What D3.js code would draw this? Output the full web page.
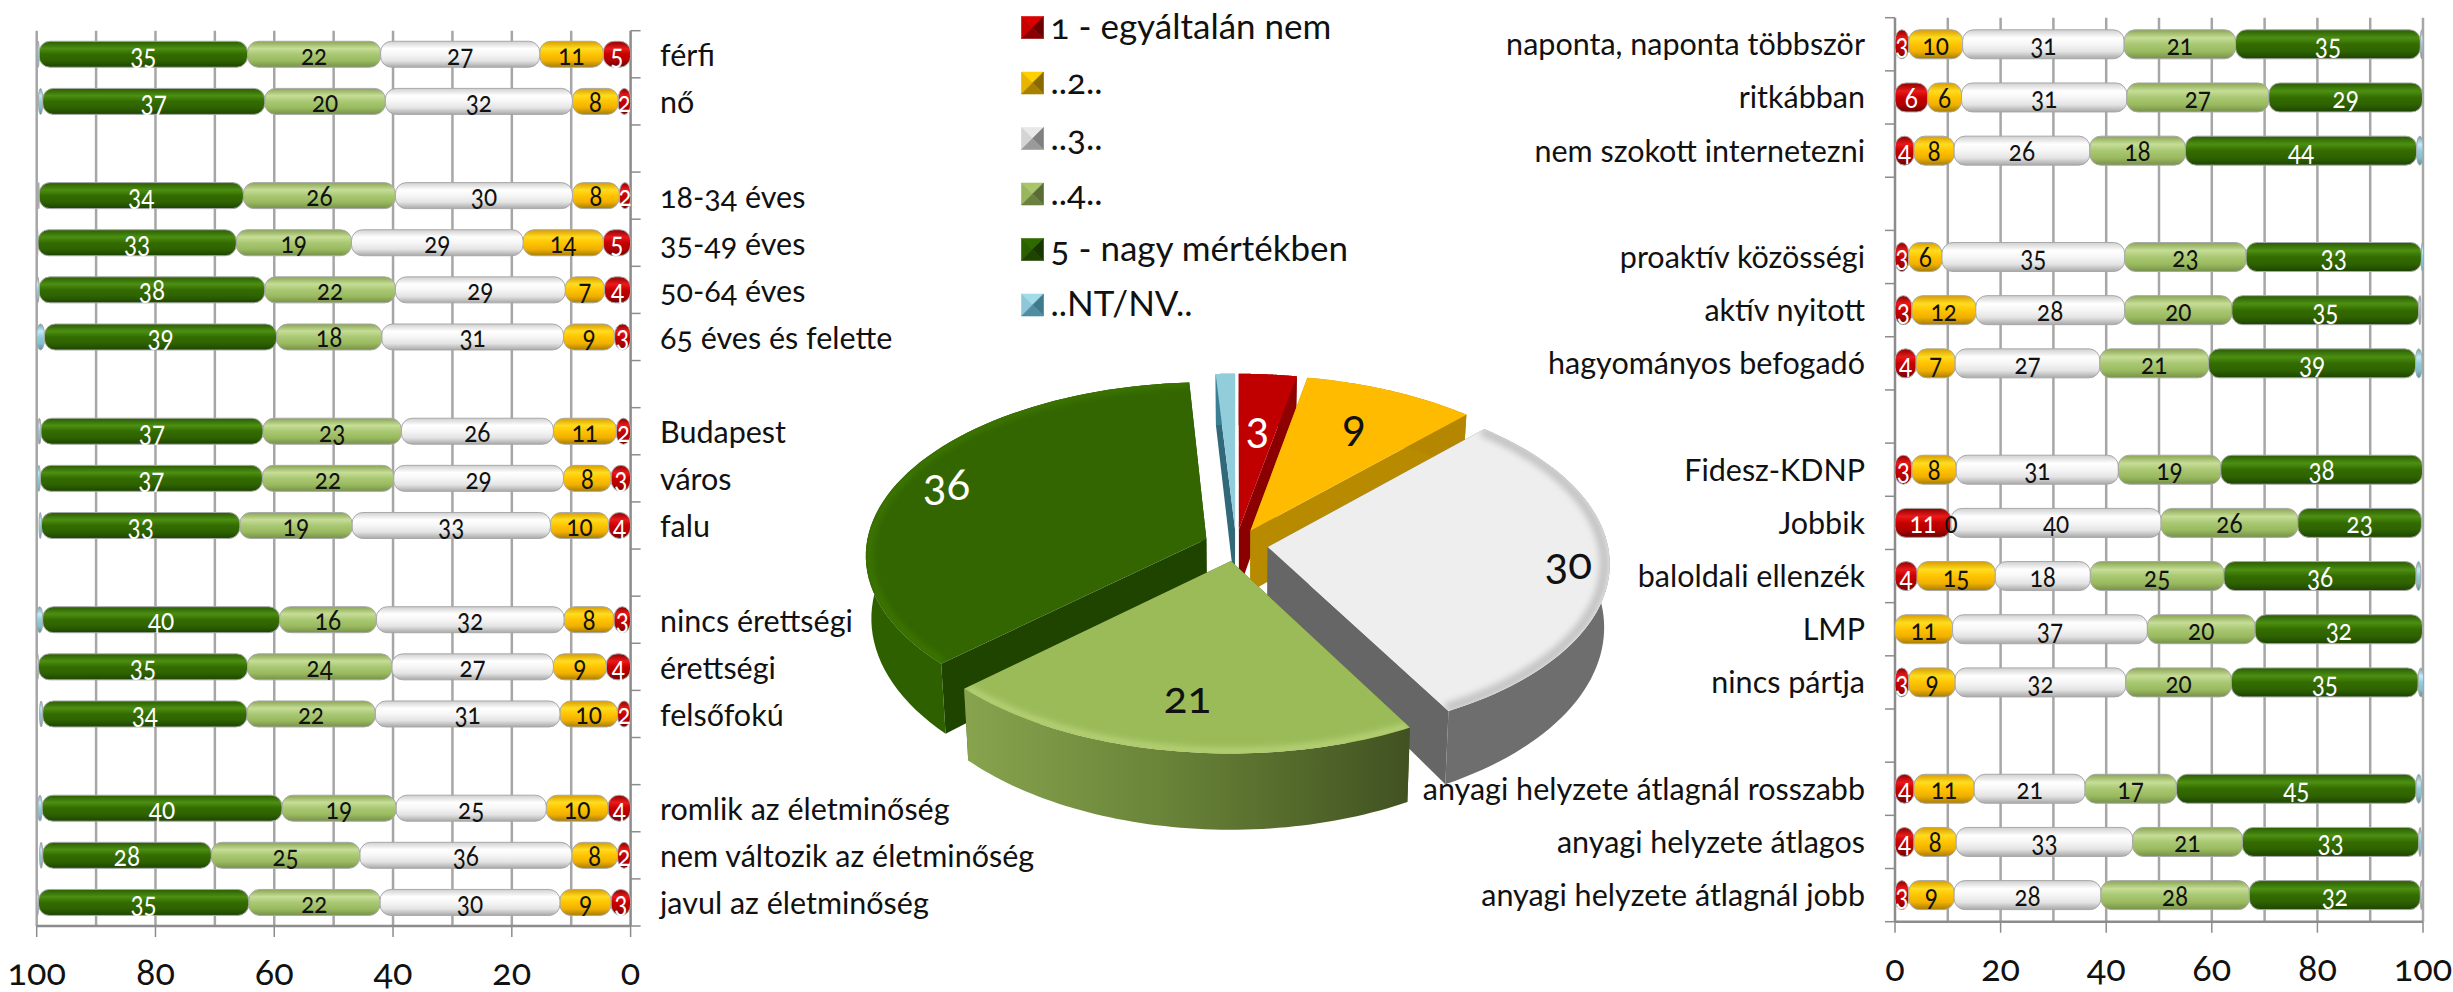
<!DOCTYPE html>
<html><head><meta charset="utf-8">
<script src="https://cdnjs.cloudflare.com/ajax/libs/d3/7.8.5/d3.min.js"></script>
<style>
html,body{margin:0;padding:0;background:#fff}
svg{display:block}
text{font-family:Lato,"Open Sans","Noto Sans",sans-serif;font-variant-numeric:oldstyle-nums;font-feature-settings:"onum" 1,"lnum" 0}
</style></head><body>
<svg id="c" width="2453" height="992"></svg>
<script>
// ---------- data ----------
const seriesNames = ["1 - egyáltalán nem","..2..","..3..","..4..","5 - nagy mértékben","..NT/NV.."];
const seriesKeys = ["r","o","w","l","g","b"];

const leftCategories = ["férfi","nő","","18-34 éves","35-49 éves","50-64 éves","65 éves és felette","","Budapest","város","falu","","nincs érettségi","érettségi","felsőfokú","","romlik az életminőség","nem változik az életminőség","javul az életminőség"];
const leftRed    = [4.6,2.1,null,1.9,4.6,4.4,2.7,null,2.4,3.3,3.7,null,2.8,4.1,2.2,null,3.8,2.2,3.3];
const leftOrange = [10.7,7.7,null,7.9,13.5,6.6,8.6,null,10.6,8.0,9.8,null,8.4,8.9,9.7,null,10.4,7.7,8.6];
const leftWhite  = [26.8,31.5,null,29.8,28.9,28.6,30.6,null,25.6,28.6,33.4,null,31.6,27.2,31.1,null,25.3,35.7,30.3];
const leftLight  = [22.4,20.3,null,25.6,19.4,22,17.7,null,23.3,22.1,18.9,null,16.3,24.3,21.6,null,19.2,25,22.1];
const leftDark   = [35.1,37.4,null,34.4,33.4,38,39.1,null,37.4,37.4,33.4,null,39.9,35.2,34.4,null,40.4,28.4,35.4];
const leftNT     = [0.3,0.7,null,0.1,0.1,0.5,1.3,null,0.5,0.5,0.4,null,1.0,0.3,0.5,null,0.7,0.5,0.3];

const rightCategories = ["naponta, naponta többször","ritkábban","nem szokott internetezni","","proaktív közösségi","aktív nyitott","hagyományos befogadó","","Fidesz-KDNP","Jobbik","baloldali ellenzék","LMP","nincs pártja","","anyagi helyzete átlagnál rosszabb","anyagi helyzete átlagos","anyagi helyzete átlagnál jobb"];
const rightRed    = [2.6,6.2,3.6,null,2.6,3.2,4,null,3.2,10.6,4.2,null,2.6,null,3.6,3.6,2.6];
const rightOrange = [10.2,6.4,7.6,null,6.3,12.1,7.4,null,8.4,0,14.8,10.9,8.8,null,11.4,8,8.6];
const rightWhite  = [30.6,31.3,25.7,null,34.6,28.2,27.4,null,30.7,39.8,18,36.9,32.3,null,21,33.4,27.8];
const rightLight  = [21.1,26.9,18.1,null,23,20.3,20.6,null,19.4,25.9,25.3,20.4,20,null,17.3,20.8,28.1];
const rightDark   = [35,29.1,43.8,null,33.2,35.4,39.2,null,38.2,23.4,36.4,31.7,35.4,null,45.4,33.4,32.4];
const rightNT     = [0.5,0,1.2,null,0.4,0.4,1.2,null,0,0,0.9,0,1,null,1,0.5,0.4];

const pieValues = [3,9,30,21,36,1];
const axisTicks = [0,20,40,60,80,100];

// ---------- layout ----------
const svg = d3.select("#c");
const defs = svg.append("defs");
const stops = {
 r:["#8e0000","#ea1a1a","#c80000","#b00000","#6a0000"],
 o:["#d89c00","#ffdc20","#ffc400","#f0b000","#a87c00"],
 w:["#cfcfcf","#ffffff","#f6f6f6","#e4e4e4","#a8a8a8"],
 l:["#88a552","#c6dd96","#a9c873","#9aba5f","#76914a"],
 g:["#2a5c02","#4c8f12","#346c00","#2e6200","#1c4400"],
 b:["#6ca4b6","#c4ecf8","#92cddc","#86bfce","#5b8fa0"]
};
seriesKeys.forEach(k=>{
  const g = defs.append("linearGradient").attr("id","grad-"+k).attr("x1",0).attr("x2",0).attr("y1",0).attr("y2",1);
  [0,.28,.5,.75,1].forEach((o,i)=>g.append("stop").attr("offset",o).attr("stop-color",stops[k][i]));
});
const lgWall = defs.append("linearGradient").attr("id","lgWall").attr("gradientUnits","userSpaceOnUse")
  .attr("x1",950).attr("x2",1420).attr("y1",0).attr("y2",0);
[[0,"#8aa650"],[.45,"#6a8438"],[1,"#3f5020"]].forEach(s=>lgWall.append("stop").attr("offset",s[0]).attr("stop-color",s[1]));
defs.append("filter").attr("id","soft").attr("x","-10%").attr("y","-10%").attr("width","120%").attr("height","120%")
  .append("feGaussianBlur").attr("stdDeviation",3);

function drawChart(cfg){
  const g = svg.append("g");
  const x = d3.scaleLinear().domain(cfg.domain).range(cfg.range);
  const y = d3.scaleBand().domain(d3.range(cfg.cats.length)).range([cfg.top,cfg.bottom]);
  const barH = cfg.barH;
  const mid = i => y(i)+y.bandwidth()/2;
  g.selectAll("line.grid").data(d3.range(10,101,10)).join("line")
    .attr("x1",d=>x(d)).attr("x2",d=>x(d)).attr("y1",cfg.top).attr("y2",cfg.bottom)
    .attr("stroke","#a6a6a6").attr("stroke-width",2.5);
  const yax = g.append("g");
  yax.append("line").attr("x1",x(0)).attr("x2",x(0)).attr("y1",cfg.top).attr("y2",cfg.bottom).attr("stroke","#8c8c8c").attr("stroke-width",2.5);
  yax.selectAll("line.t").data(d3.range(cfg.cats.length+1)).join("line")
    .attr("x1",x(0)).attr("x2",x(0)+cfg.side*10)
    .attr("y1",d=>cfg.top+d*y.step()).attr("y2",d=>cfg.top+d*y.step())
    .attr("stroke","#8c8c8c").attr("stroke-width",1.5);
  g.append("line").attr("x1",x(100)).attr("x2",x(0)).attr("y1",cfg.bottom).attr("y2",cfg.bottom).attr("stroke","#8c8c8c").attr("stroke-width",2.5);
  g.selectAll("line.xt").data(axisTicks).join("line")
    .attr("x1",d=>x(d)).attr("x2",d=>x(d)).attr("y1",cfg.bottom).attr("y2",cfg.bottom+11)
    .attr("stroke","#8c8c8c").attr("stroke-width",1.5);
  g.selectAll("text.xt").data(axisTicks).join("text")
    .attr("x",d=>x(d)).attr("y",cfg.bottom+59).attr("text-anchor","middle")
    .attr("font-size",36).attr("fill","#111").text(d=>d);
  g.selectAll("text.cat").data(cfg.cats).join("text")
    .attr("x",cfg.labelX).attr("y",(d,i)=>mid(i)+cfg.catDy)
    .attr("text-anchor",cfg.side>0?"start":"end")
    .attr("font-size",cfg.catSize).attr("fill","#111").text(d=>d);
  const labels=[];
  cfg.cats.forEach((c,i)=>{
    let acc=0;
    cfg.series.forEach((vals,si)=>{
      const v=vals[i];
      if(v===null) return;
      const x0=x(acc), x1=x(acc+v);
      acc+=v;
      const left=Math.min(x0,x1), w=Math.abs(x1-x0);
      if(w>0){
        g.append("rect").attr("x",left).attr("y",mid(i)-barH/2)
          .attr("width",w).attr("height",barH)
          .attr("rx",Math.min(w/2,11)).attr("ry",11)
          .attr("fill","url(#grad-"+seriesKeys[si]+")")
          .attr("stroke","#a8a8a8").attr("stroke-width",1);
      }
      if(si<5) labels.push({x:(x0+x1)/2,y:mid(i),t:Math.round(v),si});
    });
  });
  g.selectAll("text.v").data(labels).join("text")
    .attr("transform",d=>`translate(${d.x},${d.y+cfg.valDy}) scale(.84,1)`)
    .attr("text-anchor","middle")
    .attr("font-size",cfg.valSize)
    .attr("fill",d=>(d.si===0||d.si===4)?"#fff":"#111").text(d=>d.t);
}
const leftSeries=[leftRed,leftOrange,leftWhite,leftLight,leftDark,leftNT];
const rightSeries=[rightRed,rightOrange,rightWhite,rightLight,rightDark,rightNT];
drawChart({cats:leftCategories,series:leftSeries,domain:[100,0],range:[36.7,630.6],top:30.7,bottom:926,barH:26,side:1,labelX:660,catSize:30.5,catDy:12,valSize:29,valDy:10.5});
drawChart({cats:rightCategories,series:rightSeries,domain:[0,100],range:[1895,2423],top:17.7,bottom:921.7,barH:29,side:-1,labelX:1865,catSize:30.5,catDy:11,valSize:29,valDy:10.5});

// ---------- legend ----------
const legendShades = {
 r:["#d80000","#c80000","#6a0000","#8a0000"],
 o:["#ffd000","#e8b400","#8a6a00","#a88000"],
 w:["#e8e8e8","#d4d4d4","#808080","#9a9a9a"],
 l:["#a9c76a","#98b65a","#586c34","#6a8040"],
 g:["#2f6a00","#2a6000","#183600","#1f4400"],
 b:["#a2dbe9","#8ec8d8","#3d7a8c","#4f8ea2"]
};
const legY = d3.scaleLinear().domain([0,5]).range([27.5,305]);
seriesNames.forEach((n,i)=>{
  const k=seriesKeys[i], s=22, x0=1021.5, y0=legY(i)-s/2, c=[x0+s/2,y0+s/2], sh=legendShades[k];
  const tris=[[[x0,y0],[x0+s,y0],c],[[x0,y0],[x0,y0+s],c],[[x0+s,y0],[x0+s,y0+s],c],[[x0,y0+s],[x0+s,y0+s],c]];
  sh.forEach((col,j)=>svg.append("polygon").attr("points",tris[j].join(" ")).attr("fill",col).attr("stroke",col).attr("stroke-width",.6));
  svg.append("text").attr("x",1050.6).attr("y",legY(i)+11).attr("font-size",35).attr("fill","#111").text(n);
});

// ---------- 3D pie ----------
const pc={cx:1236,cy:545,rx:340,ry:172,persp:.09,explode:.094,depth:62};
const arcs=d3.pie().sort(null)(pieValues);
function proj(a,r,da,depth){ // a = angle cw from top; da = slice mid-angle
  const ux=Math.sin(a)*r+Math.sin(da)*pc.explode;
  const uy=-Math.cos(a)*r-Math.cos(da)*pc.explode;
  const pz=1/(1-pc.persp*uy);
  const sc=depth?0.985:1;
  return [pc.cx+ux*pc.rx*pz*sc, pc.cy+uy*pc.ry*pz+(depth?pc.depth*pz*pz:0)];
}
const lineGen=d3.line();
const pieStyle={
 r:{top:"#c00000",outer:"#8f0000",radial:"#8a0000"},
 o:{top:"#ffbb00",outer:"#b58600",radial:"#b88a00"},
 w:{top:"#eeeeee",outer:"#6e6e6e",radial:"#666666"},
 l:{top:"#9bbb59",outer:"url(#lgWall)",radial:"#4f6329"},
 g:{top:"#336600",outer:"#2f6000",radial:"#1f4400"},
 b:{top:"#92cddc",outer:"#3a7f92",radial:"#31697a"}
};
const drawOrder=[5,4,0,1,2,3];
const pg=svg.append("g");
drawOrder.forEach(i=>{
  const a=arcs[i], k=seriesKeys[i], st=pieStyle[k];
  const da=(a.startAngle+a.endAngle)/2;
  const angs=d3.range(0,61).map(t=>a.startAngle+(a.endAngle-a.startAngle)*t/60);
  const g=pg.append("g");
  const tipT=proj(0,0,da,false), tipB=proj(0,0,da,true);
  [a.startAngle,a.endAngle].forEach(e=>{
    g.append("path").attr("d",lineGen([tipT,proj(e,1,da,false),proj(e,1,da,true),tipB])+"Z").attr("fill",st.radial);
  });
  const topEdge=angs.map(t=>proj(t,1,da,false));
  const botEdge=angs.map(t=>proj(t,1,da,true)).reverse();
  g.append("path").attr("d",lineGen(topEdge.concat(botEdge))+"Z").attr("fill",st.outer);
  const clipId="clip-"+k;
  defs.append("clipPath").attr("id",clipId).append("path").attr("d",lineGen([tipT].concat(topEdge))+"Z");
  g.append("path").attr("d",lineGen([tipT].concat(topEdge))+"Z").attr("fill",st.top);
  const rimCol={w:"#c4c4c4",l:"#c0da80",g:"#3f7a06"}[k];
  if(rimCol){
    const rim=angs.map(t=>proj(t,k==="w"?.985:.99,da,false));
    g.append("g").attr("clip-path",`url(#${clipId})`).append("path").attr("d",lineGen(rim)).attr("fill","none")
      .attr("stroke",rimCol).attr("stroke-width",k==="w"?10:5).attr("filter","url(#soft)");
  }
});
const pieLabelR=[.62,.72,.88,.75,.85,0];
arcs.forEach((a,i)=>{
  if(i===5) return;
  const da=(a.startAngle+a.endAngle)/2;
  const p=proj(da,pieLabelR[i],da,false);
  pg.append("text").attr("x",p[0]).attr("y",p[1]+13).attr("text-anchor","middle")
    .attr("font-size",44).attr("fill",(i===0||i===4)?"#fff":"#111").text(pieValues[i]);
});
</script></body></html>
